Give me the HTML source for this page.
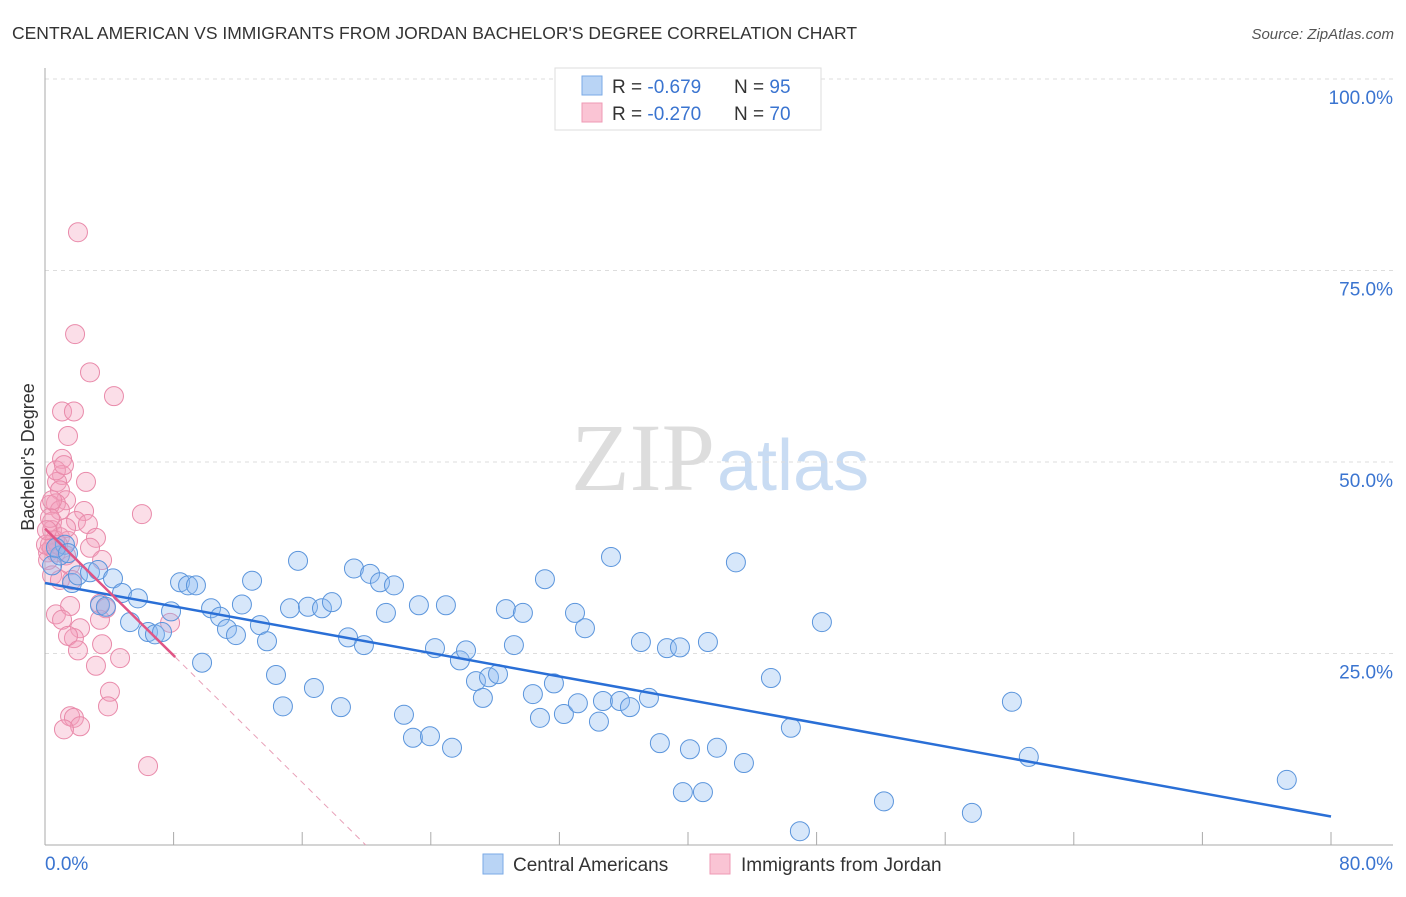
<!DOCTYPE html>
<html><head><meta charset="utf-8"><style>
body{margin:0;background:#fff;font-family:"Liberation Sans",sans-serif}
</style></head><body>
<svg width="1406" height="892" xmlns="http://www.w3.org/2000/svg">
<text x="12" y="39" font-size="17.5" fill="#333">CENTRAL AMERICAN VS IMMIGRANTS FROM JORDAN BACHELOR'S DEGREE CORRELATION CHART</text>
<text x="1394" y="39" font-size="15" fill="#555" font-style="italic" text-anchor="end">Source: ZipAtlas.com</text>
<text x="715" y="490" font-size="96" fill="#ddd" font-family="Liberation Serif,serif" text-anchor="end">ZIP</text>
<text x="717" y="490" font-size="72" fill="#c9dcf3">atlas</text>
<g id="grid"></g>
<g id="axes"></g>
<g id="marks"></g>
<text transform="translate(34,457) rotate(-90)" font-size="18" fill="#333" text-anchor="middle">Bachelor's Degree</text>
<g>
<rect x="555" y="68" width="266" height="62" fill="#fff" stroke="#ddd"/>
<rect x="582" y="76" width="20" height="19" fill="#b9d4f5" stroke="#7aaae6"/>
<rect x="582" y="103" width="20" height="19" fill="#fac4d4" stroke="#ef9ab4"/>
<text x="612" y="93" font-size="19" fill="#333">R = <tspan fill="#3a74d0">-0.679</tspan><tspan x="734">N = </tspan><tspan fill="#3a74d0">95</tspan></text>
<text x="612" y="120" font-size="19" fill="#333">R = <tspan fill="#3a74d0">-0.270</tspan><tspan x="734">N = </tspan><tspan fill="#3a74d0">70</tspan></text>
</g>
<g>
<rect x="483" y="854" width="20" height="20" fill="#b9d4f5" stroke="#7aaae6"/>
<text x="513" y="871" font-size="19" fill="#333">Central Americans</text>
<rect x="710" y="854" width="20" height="20" fill="#fac4d4" stroke="#ef9ab4"/>
<text x="741" y="871" font-size="19" fill="#333">Immigrants from Jordan</text>
</g>
</svg>
<script>
const yTicks=[25,50,75,100];
const yTickLabels=["25.0%","50.0%","75.0%","100.0%"];
const xTickCount=10;
const xLabels=["0.0%","80.0%"];
const blueX=[0.44,0.93,1.24,1.68,2.05,2.8,3.3,4.23,3.42,3.79,4.79,5.78,5.29,6.41,6.84,7.28,7.84,8.4,8.9,9.39,9.77,10.33,10.89,11.32,11.88,12.25,12.88,13.37,13.81,14.37,14.8,15.24,15.74,16.36,16.73,17.23,17.85,18.41,18.85,19.22,19.84,20.22,20.84,21.21,21.71,22.33,22.89,23.26,23.95,24.26,24.94,25.32,25.81,26.19,26.81,27.24,27.62,28.18,28.67,29.17,29.73,30.35,30.79,31.1,31.66,32.28,32.97,33.15,33.59,34.46,34.71,35.21,35.77,36.39,37.07,37.57,38.25,38.69,39.5,39.68,40.12,40.93,41.24,41.8,42.98,43.48,45.16,46.4,46.96,48.33,52.19,57.66,60.15,61.2,77.25,0.68,1.43];
const blueY=[36.5,37.8,39.2,34.2,35.2,35.6,35.9,34.8,31.3,31.1,32.9,32.2,29.1,27.8,27.5,27.8,30.5,34.3,33.9,33.9,23.8,30.9,29.8,28.2,27.4,31.4,34.5,28.7,26.6,22.2,18.1,30.9,37.1,31.1,20.5,30.9,31.7,18.0,27.1,36.1,26.1,35.4,34.3,30.3,33.9,17.0,14.0,31.3,14.2,25.7,31.3,12.7,24.1,25.4,21.4,19.2,21.9,22.3,30.8,26.1,30.3,19.7,16.6,34.7,21.1,17.1,30.3,18.5,28.3,16.1,18.8,37.6,18.8,18.0,26.5,19.2,13.3,25.7,25.8,6.9,12.5,6.9,26.5,12.7,36.9,10.7,21.8,15.3,1.8,29.1,5.7,4.2,18.7,11.5,8.5,38.8,38.1];
const pinkX=[2.05,1.87,2.8,4.29,1.06,1.8,1.43,1.06,1.06,0.75,2.55,0.93,1.31,0.68,0.31,2.43,0.93,6.03,1.93,2.67,0.44,0.44,0.93,3.17,1.43,0.31,2.8,0.19,0.68,1.31,3.55,1.56,1.68,3.42,3.79,0.68,1.56,1.06,2.18,7.78,3.42,1.8,1.43,3.55,2.05,4.67,3.17,4.04,3.92,1.56,1.8,2.18,1.18,6.41,0.62,0.19,0.44,0.81,0.06,0.44,0.93,0.31,0.68,1.18,0.44,0.12,1.31];
const pinkY=[80.0,66.7,61.7,58.6,56.6,56.6,53.4,50.4,48.3,47.4,47.4,46.3,45.0,44.6,44.4,43.6,43.7,43.2,42.3,41.9,42.2,41.1,40.2,40.1,39.7,39.2,38.8,38.2,38.2,37.8,37.2,36.5,34.6,31.5,30.9,30.1,31.2,29.4,28.3,29.0,29.4,27.0,27.3,26.2,25.4,24.4,23.4,20.0,18.1,16.8,16.6,15.5,15.1,10.3,39.8,37.2,38.8,39.2,39.2,35.2,34.6,42.7,48.9,49.6,45.0,41.1,41.4];
const blueFit=[34.2,-0.381];
const pinkFit=[41.3,-2.07];
const pinkSolidEnd=8.1;

const NS="http://www.w3.org/2000/svg";
const X=v=>45+v/80*1286;
const Y=v=>845-v/100*766;
function mk(tag,attrs,parent){const e=document.createElementNS(NS,tag);for(const k in attrs)e.setAttribute(k,attrs[k]);document.getElementById(parent).appendChild(e);return e;}
yTicks.forEach((t,i)=>{
  const l=mk('line',{x1:45,x2:1393,y1:Y(t),y2:Y(t),stroke:'#ddd','stroke-dasharray':'4 4'},'grid');
  
  
  const tx=mk('text',{x:1393,y:Y(t)+25,'font-size':19,fill:'#3a74d0','text-anchor':'end'},'axes');
  tx.textContent=yTickLabels[i];
  
  
});
const ya=mk('line',{x1:45,x2:45,y1:68,y2:845,stroke:'#aaa'},'axes');


const xa=mk('line',{x1:45,x2:1393,y1:845,y2:845,stroke:'#aaa'},'axes');


for(let i=0;i<=xTickCount;i++){
  const t=mk('line',{x1:X(i*8),x2:X(i*8),y1:832,y2:845,stroke:'#aaa'},'axes');
  
  
}
[[0,'start',45],[80,'end',1393]].forEach((d,i)=>{
  const tx=mk('text',{x:d[2],y:870,'font-size':19,fill:'#3a74d0','text-anchor':d[1]},'axes');
  tx.textContent=xLabels[i];
  
  
});
pinkX.forEach((x,i)=>{
  const c=mk('circle',{cx:X(x),cy:Y(pinkY[i]),r:9.5,fill:'rgba(244,160,188,0.35)',stroke:'#e98aaa','stroke-width':1},'marks');
  
  
});
blueX.forEach((x,i)=>{
  const c=mk('circle',{cx:X(x),cy:Y(blueY[i]),r:9.5,fill:'rgba(140,185,240,0.35)',stroke:'#5b95dc','stroke-width':1},'marks');
  
  
});
const bl=mk('line',{x1:X(0),y1:Y(blueFit[0]),x2:X(80),y2:Y(blueFit[0]+blueFit[1]*80),stroke:'#2a6fd6','stroke-width':2.5},'marks');


const zeroX=-pinkFit[0]/pinkFit[1];
const pd=mk('line',{x1:X(pinkSolidEnd),y1:Y(pinkFit[0]+pinkFit[1]*pinkSolidEnd),x2:X(zeroX),y2:Y(0),stroke:'#e8a0b8','stroke-width':1,'stroke-dasharray':'6 5'},'marks');


const pl=mk('line',{x1:X(0),y1:Y(pinkFit[0]),x2:X(pinkSolidEnd),y2:Y(pinkFit[0]+pinkFit[1]*pinkSolidEnd),stroke:'#e05585','stroke-width':2.5},'marks');


</script>
</body></html>
